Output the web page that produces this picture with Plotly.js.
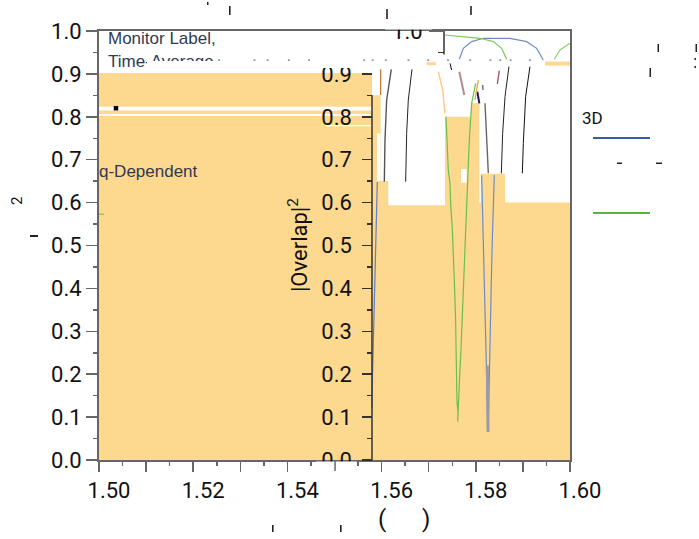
<!DOCTYPE html>
<html><head><meta charset="utf-8">
<script src="https://cdn.plot.ly/plotly-3.0.1.min.js"></script>
<style>html,body{margin:0;padding:0;background:#fff}#c{width:699px;height:539px}</style>
</head><body><div id="c"></div>
<script>
// Filled band: step edges and heights
const bandX = [1.5,1.55796,1.5598,1.56142,1.57346,1.57898,1.58075,1.5811,1.5862,1.6];
const bandY = [0.902,0.85,0.6503,0.594,0.80,0.832,0.6,0.667,0.6,0.6];
// Gaps in the band (x0,x1,y0,y1)
const gaps = [
  [1.5,1.55796,0.8147,0.8232],
  [1.5,1.55796,0.8025,0.8065],
  [1.548,1.55796,0.778,0.781],
  [1.55902,1.5598,0.6503,0.7615],
  [1.57685,1.57806,0.6465,0.6784]
];
// Blue curve
const blueEdgeX = [1.55909,1.55895,1.55874,1.55845,1.55824,1.55803,1.55796];
const blueEdgeY = [0.648,0.5905,0.513,0.400,0.2875,0.179,0.120];
const blueDipX = [1.58124,1.58138,1.5816,1.58181,1.58202,1.58223,1.58237,1.58259,1.58273,1.58287,1.58301,1.58329,1.58351,1.58372,1.58393];
const blueDipY = [0.664,0.598,0.536,0.435,0.330,0.225,0.120,0.066,0.1166,0.2176,0.3147,0.4157,0.5144,0.598,0.664];
const greyCoreX = [1.58245,1.5826];
const greyCoreY = [0.22,0.066];
const blueArchX = [1.5765,1.57735,1.57912,1.58159,1.58726,1.5908,1.59292,1.59433];
const blueArchY = [0.934,0.9596,0.9752,0.983,0.983,0.9752,0.9596,0.9324];
// Green curve
const greenDipX = [1.57367,1.57395,1.57416,1.57452,1.57466,1.57501,1.57523,1.57544,1.57572,1.57586,1.576,1.57622,1.57615,1.57636,1.57664,1.57685,1.57707,1.57728,1.57756,1.57777,1.57806,1.5782,1.57841,1.57862,1.57912,1.57997];
const greenDipY = [0.8004,0.7382,0.676,0.645,0.598,0.54,0.4895,0.4196,0.3225,0.2292,0.136,0.1127,0.0894,0.1593,0.2098,0.2564,0.3147,0.3846,0.4546,0.5284,0.598,0.645,0.676,0.7459,0.8314,0.8781];
const greenArchX = [1.57346,1.57664,1.58089,1.58372,1.58549,1.58655];
const greenArchY = [0.9907,0.9868,0.983,0.9752,0.9596,0.934];
const greenArch2X = [1.59667,1.59787,1.6];
const greenArch2Y = [0.934,0.9557,0.9713];
const greenStubX = [1.5,1.5011];
const greenStubY = [0.573,0.573];
// Black curves
const darkAX = [1.56206,1.56107,1.56072,1.56058];
const darkAY = [0.9107,0.8392,0.746,0.6488];
const darkBX = [1.56645,1.56567,1.56532,1.56511];
const darkBY = [0.9107,0.8392,0.7615,0.6488];
const darkCX = [1.58195,1.5823,1.58266];
const darkCY = [0.8314,0.7459,0.6682];
const darkDX = [1.58704,1.5862,1.5857,1.58542];
const darkDY = [0.9169,0.847,0.7615,0.6682];
const darkEX = [1.5915,1.59058,1.59009,1.58988];
const darkEY = [0.9169,0.847,0.7382,0.6682];
const darkFX = [1.57452,1.57487];
const darkFY = [0.9247,0.909];
const darkGX = [1.58145,1.58152];
const darkGY = [0.8742,0.8625];
// Short coloured pieces
const brownX = [1.5765,1.57756];
const brownY = [0.9052,0.8509];
const redX = [1.58499,1.58457];
const redY = [0.9076,0.8765];
const navyX = [1.58032,1.58075];
const navyY = [0.8586,0.8314];
const rustX = [1.5598,1.5598];
const rustY = [0.9107,0.8509];
const peachX = [1.57204,1.57296,1.57346];
const peachY = [0.9052,0.8625,0.8081];
const amberX = [1.58053,1.57983];
const amberY = [0.8858,0.8392];
const stripAX = [1.59469,1.6];
const stripAY = [0.924,0.924];
const stripBX = [1.56956,1.57155];
const stripBY = [0.924,0.924];
// Specks along the top of the band
const speckX = [1.5255,1.533,1.5358,1.5403,1.5446,1.547,1.5541,1.5581,1.5563,1.5609,1.5657,1.5699,1.5741,1.5788,1.5831,1.5852,1.5874,1.5915];
const speckY = [0.932,0.932,0.932,0.932,0.932,0.932,0.932,0.932,0.932,0.932,0.932,0.932,0.932,0.932,0.932,0.932,0.932,0.932];
const dotX = [1.5036];
const dotY = [0.82];
// Spines of the inner axes
const spine2X = [1.55796,1.55796];
const spine2Y = [0,0.85];
const spine3X = [1.57325,1.57325];
const spine3Y = [0.945,1];
// Ticks
const xTickVals = [1.5,1.51,1.52,1.53,1.54,1.55,1.56,1.57,1.58,1.59,1.6];
const xTickText = ['1.50','','1.52','','1.54','','1.56','','1.58','','1.60'];
const xMinor = [1.505,1.515,1.525,1.535,1.545,1.555,1.565,1.575,1.585,1.595];
const yTickVals = [0,0.1,0.2,0.3,0.4,0.5,0.6,0.7,0.8,0.9,1];
const yTickText = ['0.0','0.1','0.2','0.3','0.4','0.5','0.6','0.7','0.8','0.9','1.0'];
const yMinor = [0.05,0.15,0.25,0.35,0.45,0.55,0.65,0.75,0.85,0.95];
const y2TickVals = [0,0.1,0.2,0.3,0.4,0.5,0.6,0.7,0.8,0.9];
const y2TickText = ['0.0','0.1','0.2','0.3','0.4','0.5','0.6','0.7','0.8','0.9'];
const y2Minor = [0.05,0.15,0.25,0.35,0.45,0.55,0.65,0.75,0.85];
// Text
const monitorText = 'Monitor Label,';
const timeText = 'Time-Average';
const depText = 'q-Dependent';
const legendHead = '3D';
const innerTitle = '|Overlap|<sup>2</sup>';
const xTitle = '(&nbsp;&nbsp;&nbsp;&nbsp;&nbsp;&nbsp;)';

const W=699,H=539,L=99,R=570,T=31,B=460;
const px = v => (v-L)/(R-L), py = v => (B-v)/(B-T);
const ORANGE='#FDD88F', BLUE='#6f8cc6', GREEN='#6cbf4b', INK='#111';
const FONT='Roboto, sans-serif', SANS='"Liberation Sans", Arial, sans-serif';

function line(x,y,color,width){return {type:'scatter',mode:'lines',x:x,y:y,line:{color:color,width:width||1},hoverinfo:'skip'};}
const gapX=[],gapY=[];
gaps.forEach(g=>{gapX.push(g[0],g[1],g[1],g[0],g[0],null);gapY.push(g[2],g[2],g[3],g[3],g[2],null);});

const traces=[
  {type:'scatter',mode:'lines',x:bandX,y:bandY,fill:'tozeroy',fillcolor:ORANGE,line:{color:ORANGE,width:0,shape:'hv'},hoverinfo:'skip'},
  {type:'scatter',mode:'lines',x:gapX,y:gapY,fill:'toself',fillcolor:'#fff',line:{color:'#fff',width:0},hoverinfo:'skip'},
  line(stripAX,stripAY,ORANGE,4), line(stripBX,stripBY,ORANGE,3),
  line(blueEdgeX,blueEdgeY,'#5f7fc0',1.2),
  line(blueDipX,blueDipY,BLUE,1.2), line(greyCoreX,greyCoreY,'#9a9aa6',3),
  line(blueArchX,blueArchY,'#6f8cc6',1.2),
  line(greenDipX,greenDipY,GREEN,1.2), line(greenArchX,greenArchY,'#7cc75c',1.2),
  line(greenArch2X,greenArch2Y,'#8ccf70',1.2), line(greenStubX,greenStubY,GREEN,1),
  line(darkAX,darkAY,'#555',1.4), line(darkBX,darkBY,'#222',1), line(darkCX,darkCY,'#666',1.4),
  line(darkDX,darkDY,'#222',1), line(darkEX,darkEY,'#111',1), line(darkFX,darkFY,'#111',1), line(darkGX,darkGY,'#555',1.2),
  line(brownX,brownY,'#b58a8a',2), line(redX,redY,'#a05050',1.3), line(navyX,navyY,'#1a1a50',2),
  line(rustX,rustY,'#c8702a',1.2), line(peachX,peachY,'#fcc98a',1.4), line(amberX,amberY,'#f0a040',1.3),
  {type:'scatter',mode:'markers',x:speckX,y:speckY,marker:{size:1.8,color:'#8a93a8',symbol:'square'},hoverinfo:'skip'},
  {type:'scatter',mode:'markers',x:dotX,y:dotY,marker:{size:4.5,color:'#000',symbol:'square'},hoverinfo:'skip'},
  {type:'scatter',mode:'text',x:[1.5019],y:[0.9254],text:[timeText],textposition:'middle right',textfont:{family:SANS,size:17,color:'#2f3a52'},hoverinfo:'skip'},
  line(spine2X,spine2Y,'#333',1.5), line(spine3X,spine3Y,'#333',1.5)
];
traces.push({type:'scatter',mode:'lines',x:[1.5,1.5],y:[0,0],yaxis:'y2',line:{width:0},hoverinfo:'skip'});
traces.push({type:'scatter',mode:'lines',x:[1.5,1.5],y:[0,0],yaxis:'y3',line:{width:0},hoverinfo:'skip'});

function rect(x0,y0,x1,y1,color){return {type:'shape',layer:'above',xref:'paper',yref:'paper',x0:px(x0),x1:px(x1),y0:py(y0),y1:py(y1),fillcolor:color||'#fff',line:{width:0}};}
const shapes=[
  rect(318,59,360,68),
  rect(147,61,240,72),
  rect(385,8,432,29.5),
  rect(316,461.5,356.5,476),
  rect(334.3,461,335.8,471,'#666'),
  rect(593,137,650,139,'#3a5aa8'),
  rect(593,212,650,214,'#5ab53a'),
  rect(617,162.5,622,164,'#222'),
  rect(656,162.5,662,164,'#222'),
  rect(229,6,230.6,15,'#222'),rect(386.2,9,387.8,19,'#222'),rect(470.2,6,471.8,15,'#222'),
  rect(657.5,44,659,52,'#222'),rect(649.5,68,651,77,'#222'),rect(695.5,44,697,52,'#222'),
  rect(694.5,58,696,60,'#222'),rect(694.5,66,696,68,'#222'),rect(207,2,208.5,5,'#222'),
  rect(30,235,38,237,'#222'),rect(272,525,273.6,532,'#222'),rect(340,525,341.6,532,'#222')
];
function note(xp,yp,text,size,color,family,angle,anchor){return {xref:'paper',yref:'paper',x:px(xp),y:py(yp),xanchor:anchor||'center',yanchor:'middle',text:text,showarrow:false,textangle:angle||0,font:{family:family||FONT,size:size,color:color||INK}};}
const annotations=[
  note(106,38,monitorText,17,'#2f3a52',SANS,0,'left'),
  note(97,171,depText,17,'#2f3a52',SANS,0,'left'),
  note(592,118,legendHead,17,'#111'),
  note(298,245,innerTitle,22,'#111',FONT,-90),
  note(404,519,xTitle,24,'#111'),
  note(17,201,'2',15,'#111',FONT,-90)
];
const layout={
  width:W,height:H,margin:{l:L,r:W-R,t:T,b:H-B,pad:0},showlegend:false,
  paper_bgcolor:'#fff',plot_bgcolor:'#fff',
  font:{family:FONT,size:22,color:INK},
  xaxis:{range:[1.5,1.6],tickmode:'array',tickvals:xTickVals,ticktext:xTickText,ticks:'outside',ticklen:10,tickwidth:1.5,tickcolor:'#666',
    linecolor:'#666',linewidth:2,mirror:true,showgrid:false,zeroline:false,ticklabelshift:10,
    minor:{tickmode:'array',tickvals:xMinor,ticks:'outside',ticklen:4,tickwidth:1.5,tickcolor:'#666',showgrid:false},tickfont:{family:FONT,size:22,color:INK}},
  yaxis:{range:[0,1],tickmode:'array',tickvals:yTickVals,ticktext:yTickText,ticks:'outside',ticklen:11,tickwidth:1.5,tickcolor:'#666',
    linecolor:'#666',linewidth:2,mirror:true,showgrid:false,zeroline:false,
    minor:{tickmode:'array',tickvals:yMinor,ticks:'outside',ticklen:4,tickwidth:1.5,tickcolor:'#666',showgrid:false},tickfont:{family:FONT,size:22,color:INK}},
  yaxis2:{overlaying:'y',anchor:'free',position:px(372.2),side:'left',range:[0,1],tickmode:'array',tickvals:y2TickVals,ticktext:y2TickText,ticks:'outside',ticklen:10,tickwidth:1.5,tickcolor:'#333',
    showline:false,showgrid:false,zeroline:false,ticklabelstandoff:6,
    minor:{tickmode:'array',tickvals:y2Minor,ticks:'outside',ticklen:5,tickwidth:1.5,tickcolor:'#333',showgrid:false},tickfont:{family:FONT,size:22,color:INK}},
  yaxis3:{overlaying:'y',anchor:'free',position:px(444),side:'left',range:[0,1],tickmode:'array',tickvals:[1],ticktext:['1.0'],ticks:'outside',ticklen:15,tickwidth:1.5,tickcolor:'#666',
    showline:false,showgrid:false,zeroline:false,ticklabelstandoff:2,
    minor:{tickmode:'array',tickvals:[0.95],ticks:'outside',ticklen:6,tickwidth:1.5,tickcolor:'#333',showgrid:false},tickfont:{family:FONT,size:22,color:INK}},
  shapes:shapes,annotations:annotations
};
Plotly.newPlot('c',traces,layout,{displayModeBar:false,staticPlot:true});
</script></body></html>
